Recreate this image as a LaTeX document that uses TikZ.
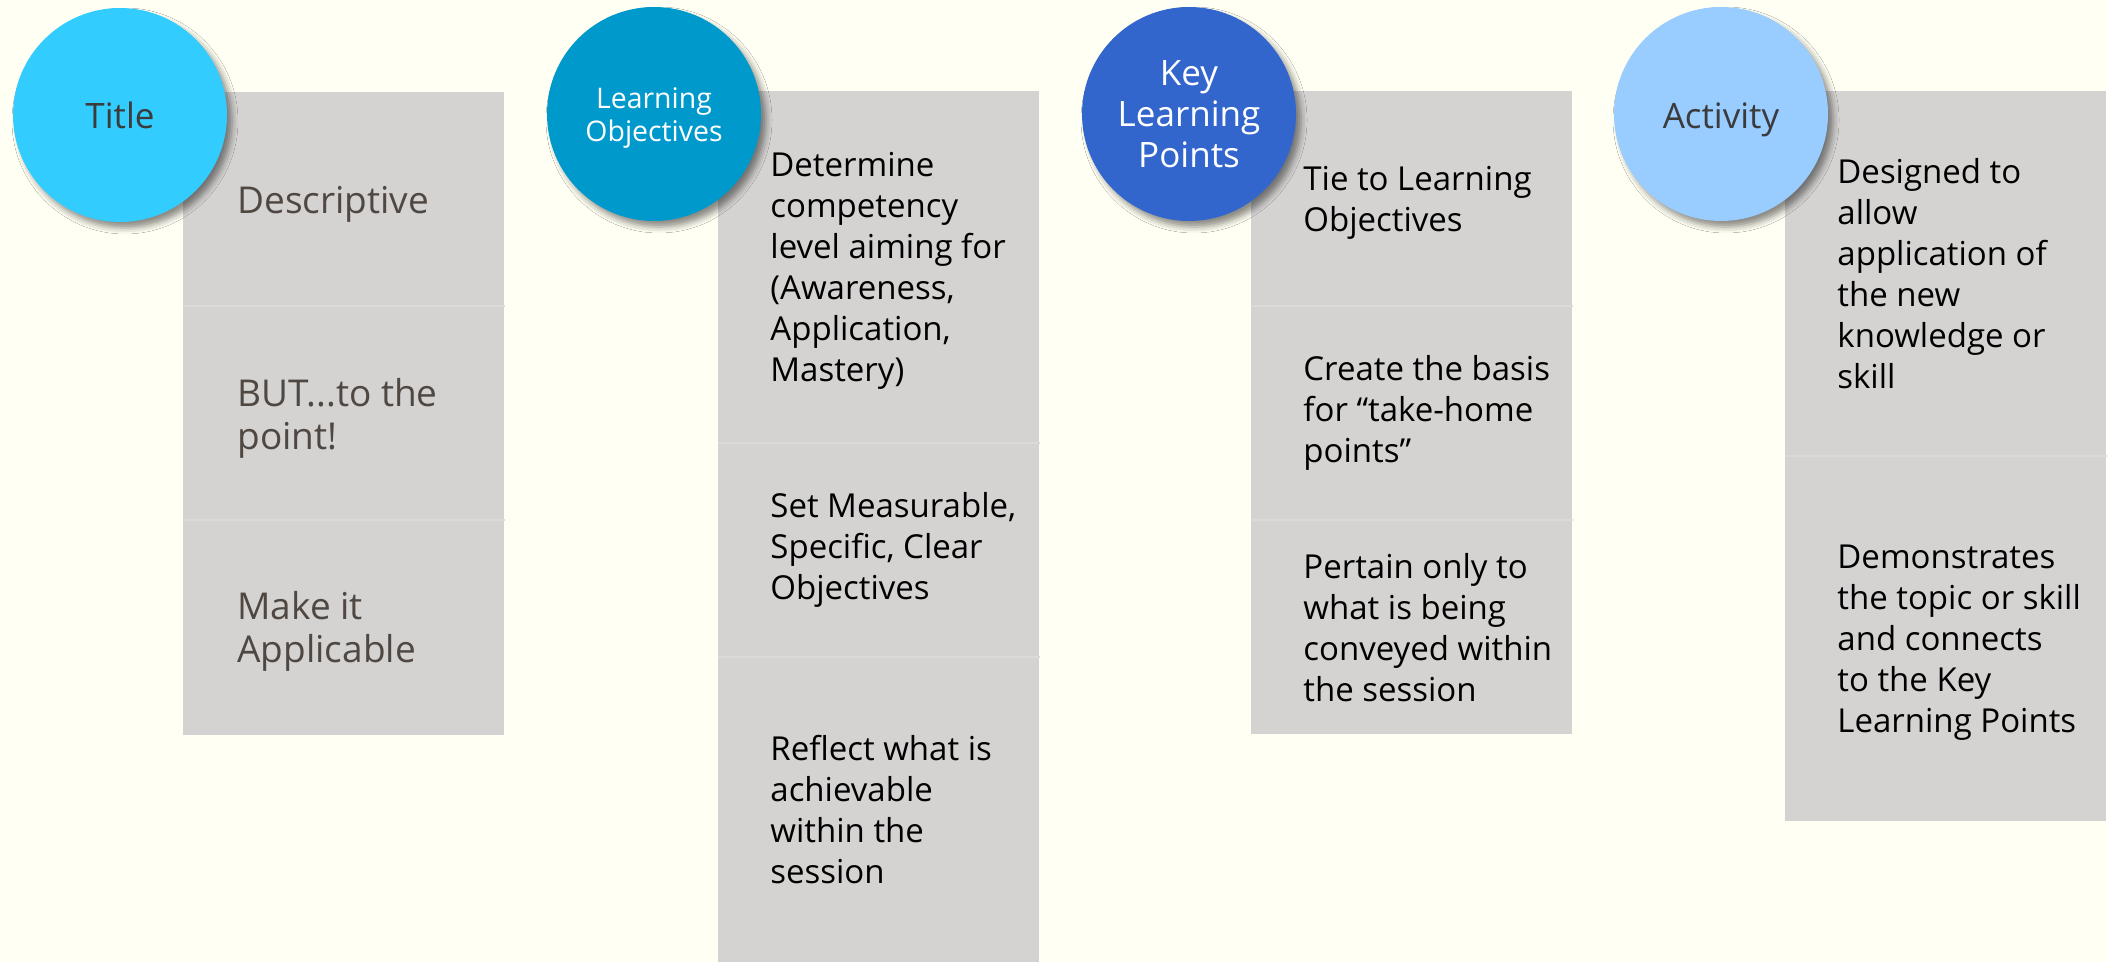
\documentclass[tikz,border=0pt]{standalone}
\usepackage{fontspec}
\setmainfont{Open Sans}
\usetikzlibrary{shadows.blur}
\definecolor{bg}{HTML}{FFFFF4}
\definecolor{boxgray}{HTML}{D4D3D2}
\definecolor{sepgray}{HTML}{DBDAD9}
\definecolor{cA}{HTML}{33CCFF}
\definecolor{cB}{HTML}{0099CC}
\definecolor{cC}{HTML}{3366CC}
\definecolor{cD}{HTML}{99CCFF}
\definecolor{tbrown}{HTML}{4F4742}
\definecolor{tdark}{HTML}{3B3B3B}
\begin{document}
\begin{tikzpicture}[x=0.5pt,y=-0.5pt,
 sec/.style={rectangle, fill=boxgray, inner sep=0pt, anchor=north west, minimum width=160.5pt},
 bubble/.style={circle, minimum size=107pt, inner sep=0pt, align=center,
   blur shadow={shadow xshift=2.5pt, shadow yshift=-3pt, shadow blur radius=3pt, shadow opacity=45}},
 bodytxt/.style={anchor=west, inner sep=0pt, align=left, text=black, font=\fontsize{16.5pt}{20.5pt}\selectfont},
 firsttxt/.style={bodytxt, text=tbrown, font=\fontsize{18.5pt}{21.5pt}\selectfont},
 bubtxt/.style={font=\fontsize{17.5pt}{20.5pt}\selectfont},
 septhin/.style={draw=sepgray, line width=0.6pt}]
\useasboundingbox (0,0) rectangle (2107,962);
\fill[bg] (0,0) rectangle (2107,962);

% column 1
\node[sec, minimum height=107pt] (a1) at (183,92) {};
\node[sec, minimum height=107pt] (a2) at (183,306) {};
\node[sec, minimum height=107.5pt] (a3) at (183,520) {};
\draw[septhin] (a2.north west) -- (a2.north east);
\draw[septhin] (a3.north west) -- (a3.north east);
\node[firsttxt] (ta1) at ([xshift=27pt,yshift=-2.5pt]a1.west) {Descriptive};
\node[firsttxt] (ta2) at ([xshift=27pt,yshift=-2.5pt]a2.west) {BUT...to the\\point!};
\node[firsttxt] (ta3) at ([xshift=27pt,yshift=-1.5pt]a3.west) {Make it\\Applicable};

% column 2
\node[sec, minimum height=176pt] (b1) at (718,91) {};
\node[sec, minimum height=107pt] (b2) at (718,443) {};
\node[sec, minimum height=152.5pt] (b3) at (718,657) {};
\draw[septhin] (b2.north west) -- (b2.north east);
\draw[septhin] (b3.north west) -- (b3.north east);
\node[bodytxt] (tb1) at ([xshift=26pt,yshift=-1.5pt]b1.west) {Determine\\competency\\level aiming for\\(Awareness,\\Application,\\Mastery)};
\node[bodytxt] (tb2) at ([xshift=26pt]b2.west) {Set Measurable,\\Specific, Clear\\Objectives};
\node[bodytxt] (tb3) at ([xshift=26pt]b3.west) {Reflect what is\\achievable\\within the\\session};

% column 3
\node[sec, minimum height=107.5pt] (c1) at (1251,91) {};
\node[sec, minimum height=107pt] (c2) at (1251,306) {};
\node[sec, minimum height=107pt] (c3) at (1251,520) {};
\draw[septhin] (c2.north west) -- (c2.north east);
\draw[septhin] (c3.north west) -- (c3.north east);
\node[bodytxt] (tc1) at ([xshift=26pt,yshift=-2pt]c1.west) {Tie to Learning\\Objectives};
\node[bodytxt] (tc2) at ([xshift=26pt]c2.west) {Create the basis\\for “take-home\\points”};
\node[bodytxt] (tc3) at ([xshift=26pt]c3.west) {Pertain only to\\what is being\\conveyed within\\the session};

% column 4
\node[sec, minimum height=182.5pt] (d1) at (1785,91) {};
\node[sec, minimum height=182.5pt] (d2) at (1785,456) {};
\draw[septhin] (d2.north west) -- (d2.north east);
\node[bodytxt] (td1) at ([xshift=26pt]d1.west) {Designed to\\allow\\application of\\the new\\knowledge or\\skill};
\node[bodytxt] (td2) at ([xshift=26pt,yshift=-2pt]d2.west) {Demonstrates\\the topic or skill\\and connects\\to the Key\\Learning Points};

% bubbles
\node[bubble, fill=cA, text=tdark, bubtxt] (ba) at (120,115) {Title};
\node[bubble, fill=cB, text=white, font=\fontsize{14.2pt}{16.5pt}\selectfont] (bb) at (654,114) {\raisebox{-1.8pt}[\height][\depth]{\parbox{100pt}{\centering Learning\\Objectives}}};
\node[bubble, fill=cC, text=white, bubtxt] (bc) at (1189,114) {Key\\Learning\\Points};
\node[bubble, fill=cD, text=tdark, bubtxt] (bd) at (1721,114) {\raisebox{-2.7pt}[\height][\depth]{Activity}};
\end{tikzpicture}
\end{document}
